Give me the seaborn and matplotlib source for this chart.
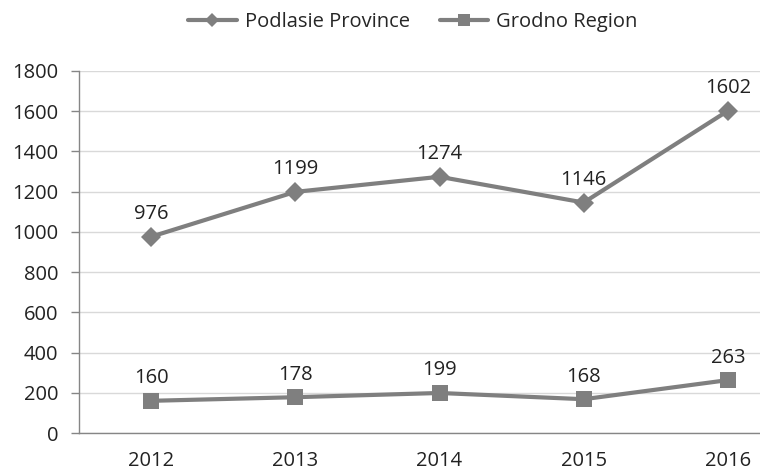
import pandas as pd
import matplotlib
matplotlib.use("Agg")
import matplotlib.pyplot as plt
import seaborn as sns
from matplotlib.lines import Line2D

# data
years = ["2012", "2013", "2014", "2015", "2016"]
podlasie = [976, 1199, 1274, 1146, 1602]
grodno = [160, 178, 199, 168, 263]
series_names = ["Podlasie Province", "Grodno Region"]
y_ticks = [0, 200, 400, 600, 800, 1000, 1200, 1400, 1600, 1800]

df = pd.DataFrame({
    "year": years * 2,
    "value": podlasie + grodno,
    "series": [series_names[0]] * len(years) + [series_names[1]] * len(years),
})
df["pos"] = df["year"].map({y: i for i, y in enumerate(years)})

sns.set_style("white")
plt.rcParams["font.family"] = ["Open Sans", "DejaVu Sans"]

gray = "#7f7f7f"
txt = "#222222"
fs = 14.5
fig = plt.figure(figsize=(7.6, 4.73), dpi=100)
ax = fig.add_axes([79 / 760, 1 - 433 / 473, (800 - 79) / 760, (433 - 71) / 473])

sns.lineplot(data=df, x="pos", y="value", hue="series", style="series",
             markers={series_names[0]: "D", series_names[1]: "s"}, dashes=False,
             palette={series_names[0]: gray, series_names[1]: gray},
             linewidth=3, markersize=11.5, markeredgewidth=0, ax=ax, legend=False)
ax.lines[0].set_markersize(10)

# value labels above each point
for vals in [podlasie, grodno]:
    for x, v in enumerate(vals):
        ax.annotate(str(v), (x, v), xytext=(0, 9), textcoords="offset points",
                    ha="center", va="bottom", fontsize=fs, color=txt)

ax.set_xlim(-0.5, len(years) - 0.5)
ax.set_ylim(0, 1800)
ax.set_yticks(y_ticks)
ax.set_xticks(range(len(years)))
ax.set_xticklabels(years)
ax.set_xticks([i + 0.5 for i in range(len(years) - 1)], minor=True)
ax.tick_params(axis="x", which="major", length=0, pad=13, labelsize=fs, colors=txt)
ax.tick_params(axis="x", which="minor", length=5, width=1, color="#868686", direction="out")
ax.tick_params(axis="y", which="major", length=6, width=1, color="#868686", direction="out",
               labelsize=fs, labelcolor=txt, left=True, pad=9)
ax.yaxis.grid(True, color="#d9d9d9", linewidth=1)
ax.set_axisbelow(True)
for s in ["top", "right"]:
    ax.spines[s].set_visible(False)
for s in ["left", "bottom"]:
    ax.spines[s].set_color("#868686")
    ax.spines[s].set_linewidth(1)
ax.set_xlabel("")
ax.set_ylabel("")

# legend with small markers like the original
handles = [
    Line2D([], [], color=gray, lw=3, marker="D", markersize=7, markeredgewidth=0),
    Line2D([], [], color=gray, lw=3, marker="s", markersize=9, markeredgewidth=0),
]
ax.legend(handles, series_names, loc="center", bbox_to_anchor=(413 / 760, 1 - 22 / 473),
          bbox_transform=fig.transFigure, ncol=2, frameon=False, fontsize=fs,
          handlelength=2.4, columnspacing=1.5, handletextpad=0.4)

fig.savefig("out.png", dpi=100)
